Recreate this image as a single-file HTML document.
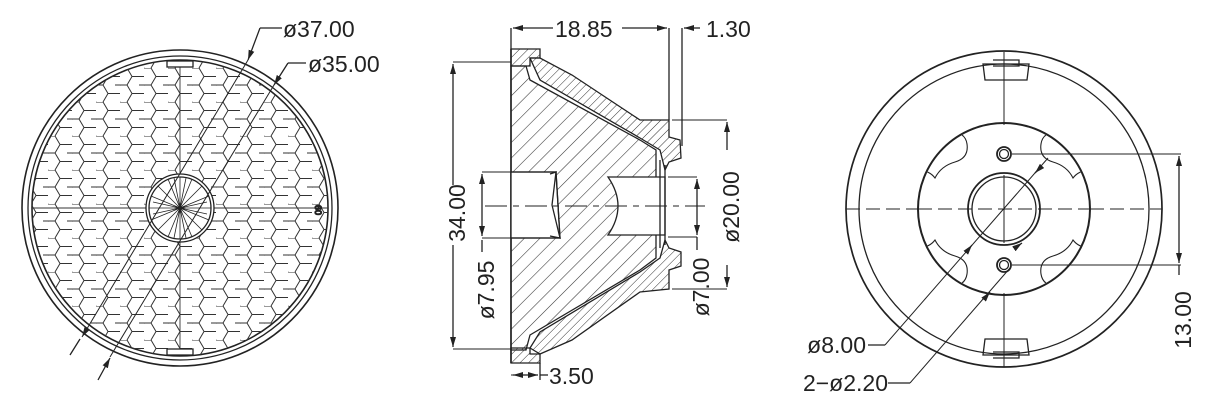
<!DOCTYPE html>
<html><head><meta charset="utf-8"><style>
html,body{margin:0;padding:0;background:#fff;width:1228px;height:402px;overflow:hidden}
svg{display:block}
text{font-family:"Liberation Sans",sans-serif;font-size:23px;fill:#222}
</style></head><body>
<svg width="1228" height="402" viewBox="0 0 1228 402" xmlns="http://www.w3.org/2000/svg">
<defs>
<pattern id="hex" width="24" height="34" patternUnits="userSpaceOnUse">
<path d="M0 0 L7 0 L12 8.5 L7 17 L0 17 M12 8.5 L24 8.5 M7 17 L12 25.5 L7 34 M12 25.5 L24 25.5 M0 17 L-5 25.5 L0 34 M19 17 L24 17" fill="none" stroke="#333" stroke-width="1"/>
</pattern>
<pattern id="hatch" width="11" height="11" patternUnits="userSpaceOnUse" patternTransform="rotate(45)">
<line x1="0" y1="0" x2="0" y2="11" stroke="#333" stroke-width="1.1"/>
</pattern>
<pattern id="hatch2" width="6" height="6" patternUnits="userSpaceOnUse" patternTransform="rotate(45)">
<line x1="0" y1="0" x2="0" y2="6" stroke="#333" stroke-width="1"/>
</pattern>
<clipPath id="lc"><circle cx="180" cy="208" r="148"/></clipPath>
<clipPath id="rc"><circle cx="1004" cy="209" r="85"/></clipPath>
<marker id="ar" viewBox="0 0 10 6" refX="10" refY="3" markerWidth="10" markerHeight="6" orient="auto" markerUnits="userSpaceOnUse"><path d="M0 0 L10 3 L0 6z" fill="#222"/></marker>
</defs>
<g fill="none" stroke="#222" stroke-width="1.3">
<!-- LEFT VIEW -->
<circle cx="180" cy="208" r="158" stroke-width="1.6"/>
<circle cx="180" cy="208" r="152"/>
<circle cx="180" cy="208" r="148" stroke-width="1.6"/>
<g clip-path="url(#lc)">
<rect x="20" y="50" width="330" height="320" fill="url(#hex)" stroke="none"/>
<g stroke="#333" stroke-width="0.9">
<line x1="180" y1="60" x2="180" y2="356"/><line x1="32" y1="208" x2="328" y2="208"/>
</g>
</g>
<circle cx="180" cy="208" r="34" fill="#fff"/>
<circle cx="180" cy="208" r="31"/>
<g stroke-width="0.8">
<path d="M149 208H211M180 177V239M158 186L202 230M158 230L202 186M151 196L209 220M151 220L209 196M168 179L192 237M168 237L192 179M153 202L207 214M153 214L207 202M174 178L186 238M174 238L186 178"/>
</g>
<rect x="167" y="61" width="26" height="6" fill="#fff"/>
<rect x="167" y="349" width="26" height="6" fill="#fff"/>
<text x="313" y="213" style="font-size:9px" transform="rotate(90 318 210)">60</text>
<!-- leaders left -->
<path d="M70 355 L80 339" />
<path d="M248 60 L82 337" marker-end="url(#ar)" stroke-width="1"/>
<path d="M260 28 L248 60" marker-end="url(#ar)"/>
<path d="M260 28 H282"/>
<path d="M288 63 L274 85" marker-end="url(#ar)"/>
<path d="M274 85 L110 357" stroke-width="1"/>
<path d="M98 380 L110 358" marker-end="url(#ar)"/>
<path d="M288 63 H306"/>

<!-- MIDDLE VIEW -->
<path d="M511 49V363" stroke-width="1.6"/>
<path d="M511 66 L526 66 L530 80 L640 140 L656 150 L656 258 L640 270 L530 335 L526 350 L511 350Z" fill="url(#hatch)"/>
<path d="M511 49 H540 V58 H530 V66 H511Z" fill="url(#hatch2)"/>
<path d="M511 363 H540 V354 H530 V348 H511Z" fill="url(#hatch2)"/>
<path d="M530 58 L540 58 L572 75 L640 120 L669 120 L669 137 L680 140 L681 158 L669 162 L665 170 L660 150 L640 138 L540 80 Z" fill="url(#hatch2)"/>
<path d="M530 348 L540 354 L572 340 L640 292 L669 289 L669 270 L681 266 L681 252 L669 248 L665 240 L660 258 L640 272 L540 332 Z" fill="url(#hatch2)"/>
<path d="M511 172 H556 L560 238 H511 Z" fill="#fff"/>
<path d="M511 172 H556 L560 238 H511" />
<path d="M550 174 L556 172 L552 205 L560 238 L550 236"/>
<path d="M608 177 H665 V235 H608 Q628 206 608 177Z" fill="#fff"/>
<path d="M660 160 V248 M665 165 V245"/>
<path d="M669 120 V28 M511 28 V49"/>
<path d="M540 363 V380"/>
<g stroke-width="1">
<path d="M485 206 H705" stroke-dasharray="22 6 6 6"/>
<path d="M453 62 H511 M453 349 H511 M482 172 H511 M482 238 H511 M672 120 H727 M672 289 H727 M668 177 H697 M668 237 H697"/>
</g>
<path d="M553 28 H513" marker-end="url(#ar)"/>
<path d="M622 28 H667" marker-end="url(#ar)"/>
<path d="M700 28 H684" marker-end="url(#ar)"/>
<path d="M682 28 V146"/>
<path d="M453 185 V64" marker-end="url(#ar)"/>
<path d="M453 245 V347" marker-end="url(#ar)"/>
<path d="M482 205 V174" marker-end="url(#ar)"/>
<path d="M482 205 V236" marker-end="url(#ar)"/>
<path d="M482 240 V252"/>
<path d="M727 150 V122" marker-end="url(#ar)"/>
<path d="M727 265 V287" marker-end="url(#ar)"/>
<path d="M697 205 V179" marker-end="url(#ar)"/>
<path d="M697 205 V235" marker-end="url(#ar)"/>
<path d="M697 237 V250"/>
<path d="M511 375 H538" stroke-width="1"/>
<path d="M525 375 H513" marker-end="url(#ar)"/>
<path d="M525 375 H538" marker-end="url(#ar)"/>
<path d="M540 375 H548"/>

<!-- RIGHT VIEW -->
<circle cx="1004" cy="209" r="158" stroke-width="1.7"/>
<circle cx="1004" cy="209" r="145"/>
<circle cx="1004" cy="209" r="86" stroke-width="2"/>
<g clip-path="url(#rc)" stroke-width="1.1">
<path d="M945 132 q20 -2 22 12 q2 14 -12 18 q-14 4 -20 16 q-6 -8 -18 -8"/>
<path d="M1063 132 q-20 -2 -22 12 q-2 14 12 18 q14 4 20 16 q6 -8 18 -8"/>
<path d="M945 286 q20 2 22 -12 q2 -14 -12 -18 q-14 -4 -20 -16 q-6 8 -18 8"/>
<path d="M1063 286 q-20 2 -22 -12 q-2 -14 12 -18 q14 -4 20 -16 q6 8 18 8"/>
</g>
<circle cx="1004" cy="209" r="36" stroke-width="1.8"/>
<circle cx="1004" cy="209" r="32"/>
<circle cx="1004" cy="154" r="7" stroke-width="1.8"/><circle cx="1004" cy="154" r="4.5"/>
<circle cx="1004" cy="265" r="7" stroke-width="1.8"/><circle cx="1004" cy="265" r="4.5"/>
<path d="M983 64 L985 80 H1027 L1029 64 Z M993 60 H1019 V66 H993"/>
<path d="M983 355 L985 339 H1027 L1029 355 Z M993 358 H1019 V352 H993"/>
<g stroke-width="1">
<path d="M1004 52 V125 M1004 293 V367 M1004 175 V243"/>
<path d="M846 209 H918 M1090 209 H1162 M918 209 H1090" stroke-dasharray="14 6"/>
<path d="M1012 154 H1181 M1012 265 H1181"/>
<path d="M885 345 L1048 158"/>
<path d="M910 383 L1010 268"/>
</g>
<path d="M1179 210 V156" marker-end="url(#ar)"/>
<path d="M1179 210 V263" marker-end="url(#ar)"/>
<path d="M1179 265 V275"/>
<path d="M1038 170 L1035 173" marker-end="url(#ar)"/>
<path d="M968 250 L972 245" marker-end="url(#ar)"/>
<path d="M1015 248 L1022 243" marker-end="url(#ar)"/>
<path d="M985 298 L990 292" marker-end="url(#ar)"/>
<path d="M868 345 H885 M888 383 H910"/>
</g>
<!-- TEXT -->
<text x="283" y="37">ø37.00</text>
<text x="308" y="72">ø35.00</text>
<text x="555" y="37">18.85</text>
<text x="706" y="37">1.30</text>
<text x="549" y="384">3.50</text>
<text transform="translate(465 213) rotate(-90)" text-anchor="middle">34.00</text>
<text transform="translate(494 290) rotate(-90)" text-anchor="middle">ø7.95</text>
<text transform="translate(739 207) rotate(-90)" text-anchor="middle">ø20.00</text>
<text transform="translate(709 287) rotate(-90)" text-anchor="middle">ø7.00</text>
<text transform="translate(1191 320) rotate(-90)" text-anchor="middle">13.00</text>
<text x="866" y="353" text-anchor="end">ø8.00</text>
<text x="888" y="391" text-anchor="end">2−ø2.20</text>
</svg>
</body></html>
